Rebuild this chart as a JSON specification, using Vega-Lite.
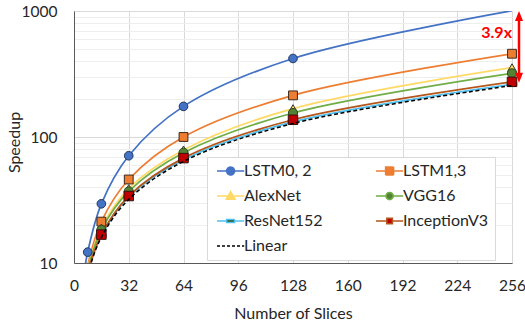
{
  "$schema": "https://vega.github.io/schema/vega-lite/v6.json",
  "width": 438,
  "height": 252,
  "autosize": "none",
  "padding": {"left": 74, "top": 11, "right": 13, "bottom": 63},
  "background": "white",
  "config": {"view": {"stroke": null}, "font": "Lato"},
  "datasets": {
    "speed": [
      {"series": "LSTM0, 2", "slices": 4, "speedup": 5.5},
      {"series": "LSTM0, 2", "slices": 8, "speedup": 12.2},
      {"series": "LSTM0, 2", "slices": 16, "speedup": 29.5},
      {"series": "LSTM0, 2", "slices": 32, "speedup": 71},
      {"series": "LSTM0, 2", "slices": 64, "speedup": 175},
      {"series": "LSTM0, 2", "slices": 128, "speedup": 420},
      {"series": "LSTM0, 2", "slices": 256, "speedup": 1005},
      {"series": "LSTM1,3", "slices": 4, "speedup": 4.6},
      {"series": "LSTM1,3", "slices": 8, "speedup": 9.6},
      {"series": "LSTM1,3", "slices": 16, "speedup": 21.3},
      {"series": "LSTM1,3", "slices": 32, "speedup": 46},
      {"series": "LSTM1,3", "slices": 64, "speedup": 100},
      {"series": "LSTM1,3", "slices": 128, "speedup": 214},
      {"series": "LSTM1,3", "slices": 256, "speedup": 458},
      {"series": "AlexNet", "slices": 4, "speedup": 4.4},
      {"series": "AlexNet", "slices": 8, "speedup": 9.0},
      {"series": "AlexNet", "slices": 16, "speedup": 19},
      {"series": "AlexNet", "slices": 32, "speedup": 39},
      {"series": "AlexNet", "slices": 64, "speedup": 79},
      {"series": "AlexNet", "slices": 128, "speedup": 168},
      {"series": "AlexNet", "slices": 256, "speedup": 355},
      {"series": "VGG16", "slices": 4, "speedup": 4.3},
      {"series": "VGG16", "slices": 8, "speedup": 8.8},
      {"series": "VGG16", "slices": 16, "speedup": 18.3},
      {"series": "VGG16", "slices": 32, "speedup": 37},
      {"series": "VGG16", "slices": 64, "speedup": 75},
      {"series": "VGG16", "slices": 128, "speedup": 155},
      {"series": "VGG16", "slices": 256, "speedup": 320},
      {"series": "ResNet152", "slices": 4, "speedup": 4.1},
      {"series": "ResNet152", "slices": 8, "speedup": 8.2},
      {"series": "ResNet152", "slices": 16, "speedup": 16.5},
      {"series": "ResNet152", "slices": 32, "speedup": 33.5},
      {"series": "ResNet152", "slices": 64, "speedup": 66},
      {"series": "ResNet152", "slices": 128, "speedup": 132},
      {"series": "ResNet152", "slices": 256, "speedup": 262},
      {"series": "InceptionV3", "slices": 4, "speedup": 4.1},
      {"series": "InceptionV3", "slices": 8, "speedup": 8.3},
      {"series": "InceptionV3", "slices": 16, "speedup": 16.8},
      {"series": "InceptionV3", "slices": 32, "speedup": 34},
      {"series": "InceptionV3", "slices": 64, "speedup": 68},
      {"series": "InceptionV3", "slices": 128, "speedup": 137},
      {"series": "InceptionV3", "slices": 256, "speedup": 274},
      {"series": "Linear", "slices": 4, "speedup": 4},
      {"series": "Linear", "slices": 8, "speedup": 8},
      {"series": "Linear", "slices": 16, "speedup": 16},
      {"series": "Linear", "slices": 32, "speedup": 32},
      {"series": "Linear", "slices": 64, "speedup": 64},
      {"series": "Linear", "slices": 128, "speedup": 128},
      {"series": "Linear", "slices": 256, "speedup": 256}
    ],
    "note": [{"slices": 256, "top": 1000, "bottom": 270, "label": "3.9x"}]
  },
  "encoding": {
    "x": {
      "field": "slices", "type": "quantitative",
      "scale": {"domain": [0, 256], "nice": false, "zero": true},
      "axis": {
        "values": [0, 32, 64, 96, 128, 160, 192, 224, 256],
        "title": "Number of Slices",
        "grid": true, "gridColor": "#D9D9D9",
        "ticks": false, "domainColor": "#595959",
        "labelFont": "Lato", "labelFontSize": 15.5, "labelColor": "#262626",
        "labelPadding": 15, "labelFlush": false, "labelOverlap": false,
        "titleFont": "Lato", "titleFontSize": 16, "titleFontWeight": "normal", "titleColor": "#262626",
        "titleX": 219, "titleY": 55, "titleBaseline": "alphabetic"
      }
    },
    "y": {
      "field": "speedup", "type": "quantitative",
      "scale": {"type": "log", "domain": [10, 1000], "nice": false},
      "axis": {
        "values": [10, 20, 30, 40, 50, 60, 70, 80, 90, 100, 200, 300, 400, 500, 600, 700, 800, 900, 1000],
        "format": "d",
        "labelExpr": "indexof([10, 100, 1000], datum.value) >= 0 ? datum.label : ''",
        "grid": true,
        "gridColor": {"condition": {"test": "indexof([10, 100, 1000], datum.value) >= 0", "value": "#D9D9D9"}, "value": "#EEEEEE"},
        "ticks": false, "domainColor": "#595959",
        "labelFont": "Lato", "labelFontSize": 15.5, "labelColor": "#262626",
        "labelPadding": 17, "labelOverlap": false, "labelFlush": false,
        "title": "Speedup",
        "titleFont": "Lato", "titleFontSize": 16, "titleFontWeight": "normal", "titleColor": "#262626",
        "titleAngle": -90, "titleX": -55, "titleY": 131, "titleBaseline": "alphabetic"
      }
    }
  },
  "layer": [
    {
      "data": {"name": "speed"},
      "transform": [{"filter": "datum.series !== 'Linear'"}],
      "mark": {"type": "line", "interpolate": "catmull-rom", "strokeWidth": 1.75, "clip": true},
      "encoding": {
        "color": {
          "field": "series", "type": "nominal",
          "scale": {
            "domain": ["LSTM0, 2", "LSTM1,3", "AlexNet", "VGG16", "ResNet152", "InceptionV3", "Linear"],
            "range": ["#4472C4", "#ED7D31", "#FFD966", "#70AD47", "#4FC1F0", "#B4561B", "#000000"]
          },
          "legend": {
            "title": null,
            "orient": "none", "legendX": 133, "legendY": 146,
            "columns": 2, "direction": "horizontal", "padding": 6,
            "fillColor": "white", "strokeColor": "#D9D9D9",
            "labelFont": "Lato", "labelFontSize": 16, "labelColor": "#262626", "labelLimit": 200,
            "symbolSize": 64, "symbolStrokeWidth": 1.5,
            "labelOffset": 15, "rowPadding": 9, "columnPadding": 49,
            "encode": {
              "symbols": {
                "update": {
                  "shape": {"signal": "['M-1,0H1.4M3.4,0H5.8M1.4,0A1,1,0,1,1,3.4,0A1,1,0,1,1,1.4,0Z', 'M-1,0H1.4M3.4,0H5.8M1.4,-1H3.4V1H1.4Z', 'M-1,0H1.76M3.04,0H5.8M2.4,-1.1L3.5,0.8H1.3Z', 'M-1,0H1.5M3.3,0H5.8M1.5,0A0.9,0.9,0,1,1,3.3,0A0.9,0.9,0,1,1,1.5,0Z', 'M-1,0H1.4M3.4,0H5.8M1.4,-0.4H3.4V0.4H1.4Z', 'M-1,0H1.7M3.1,0H5.8M1.7,-0.7H3.1V0.7H1.7Z', 'M-1,0H5.8'][indexof(['LSTM0, 2', 'LSTM1,3', 'AlexNet', 'VGG16', 'ResNet152', 'InceptionV3', 'Linear'], datum.value)]"},
                  "fill": {"signal": "['#4472C4', '#ED7D31', '#FFD966', '#548235', '#375623', '#C00000', 'transparent'][indexof(['LSTM0, 2', 'LSTM1,3', 'AlexNet', 'VGG16', 'ResNet152', 'InceptionV3', 'Linear'], datum.value)]"},
                  "stroke": {"signal": "['#4472C4', '#ED7D31', '#F5C842', '#70AD47', '#4FC1F0', '#B4561B', '#000000'][indexof(['LSTM0, 2', 'LSTM1,3', 'AlexNet', 'VGG16', 'ResNet152', 'InceptionV3', 'Linear'], datum.value)]"},
                  "strokeDash": {"signal": "datum.value === 'Linear' ? [3, 2] : [1, 0]"},
                  "strokeWidth": {"value": 1.5},
                  "opacity": {"value": 1}
                }
              }
            }
          }
        }
      }
    },
    {
      "data": {"name": "speed"},
      "transform": [{"filter": "datum.series !== 'Linear' && datum.speedup >= 10 && datum.speedup <= 1000"}],
      "mark": {"type": "point", "filled": true, "opacity": 1, "strokeWidth": 1, "clip": false},
      "encoding": {
        "fill": {
          "field": "series", "type": "nominal",
          "scale": {"domain": ["LSTM0, 2", "LSTM1,3", "AlexNet", "VGG16", "ResNet152", "InceptionV3"],
                    "range": ["#4472C4", "#ED7D31", "#FFD966", "#548235", "#375623", "#C00000"]},
          "legend": null
        },
        "stroke": {
          "field": "series", "type": "nominal",
          "scale": {"domain": ["LSTM0, 2", "LSTM1,3", "AlexNet", "VGG16", "ResNet152", "InceptionV3"],
                    "range": ["#203864", "#3A2A1E", "#333333", "#2E4A1E", "#1E3012", "#3A1010"]},
          "legend": null
        },
        "shape": {
          "field": "series", "type": "nominal",
          "scale": {"domain": ["LSTM0, 2", "LSTM1,3", "AlexNet", "VGG16", "ResNet152", "InceptionV3"],
                    "range": ["circle", "square", "triangle-up", "circle", "M-1,-0.4H1V0.4H-1Z", "square"]},
          "legend": null
        },
        "size": {
          "field": "series", "type": "ordinal",
          "scale": {"domain": ["LSTM0, 2", "LSTM1,3", "AlexNet", "VGG16", "ResNet152", "InceptionV3"],
                    "range": [75, 90, 70, 55, 55, 30]},
          "legend": null
        }
      }
    },
    {
      "data": {"name": "speed"},
      "transform": [{"filter": "datum.series === 'Linear'"}],
      "mark": {"type": "line", "interpolate": "catmull-rom", "strokeWidth": 1.5, "strokeDash": [4, 2.5], "clip": true},
      "encoding": {
        "color": {"field": "series", "type": "nominal"}
      }
    },
    {
      "data": {"name": "note"},
      "mark": {"type": "rule", "color": "#FF0000", "strokeWidth": 2.5, "xOffset": 7, "yOffset": 8, "y2Offset": -8, "clip": false},
      "encoding": {
        "y": {"field": "top", "type": "quantitative"},
        "y2": {"field": "bottom"}
      }
    },
    {
      "data": {"name": "note"},
      "mark": {"type": "point", "shape": "M0,-1L0.8,1L-0.8,1Z", "filled": true, "color": "#FF0000", "size": 100, "opacity": 1, "strokeWidth": 0, "xOffset": 7, "yOffset": 5, "clip": false},
      "encoding": {
        "y": {"field": "top", "type": "quantitative"}
      }
    },
    {
      "data": {"name": "note"},
      "mark": {"type": "point", "shape": "M0,1L0.8,-1L-0.8,-1Z", "filled": true, "color": "#FF0000", "size": 100, "opacity": 1, "strokeWidth": 0, "xOffset": 7, "yOffset": -5, "clip": false},
      "encoding": {
        "y": {"field": "bottom", "type": "quantitative"}
      }
    },
    {
      "data": {"name": "note"},
      "mark": {"type": "text", "align": "right", "baseline": "middle", "font": "Lato", "fontSize": 16, "fontWeight": "bold", "color": "#FF0000", "dy": 21.5, "clip": false},
      "encoding": {
        "y": {"field": "top", "type": "quantitative"},
        "text": {"field": "label"}
      }
    }
  ]
}
